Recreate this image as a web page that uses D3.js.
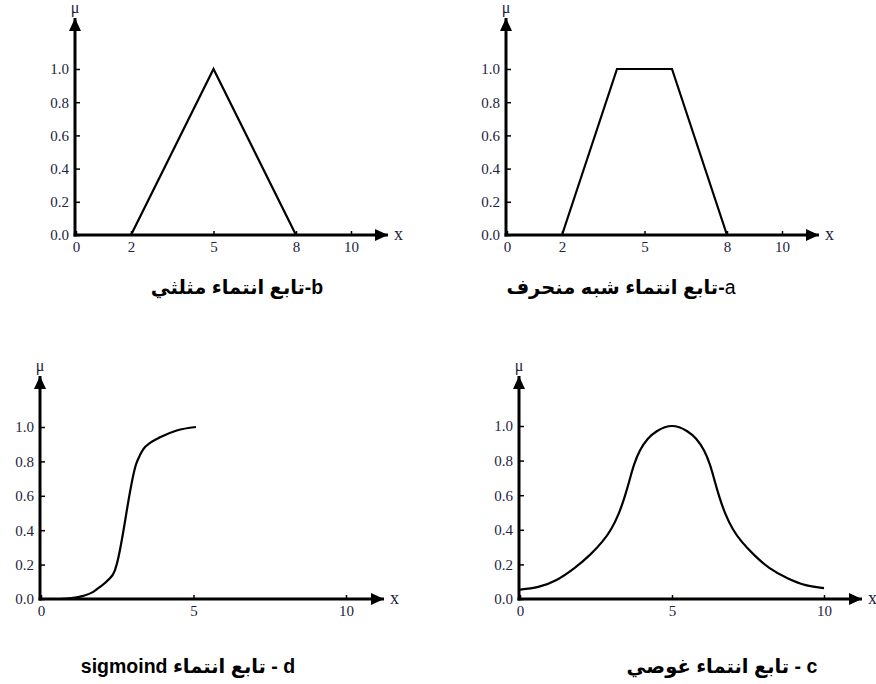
<!DOCTYPE html>
<html>
<head>
<meta charset="utf-8">
<script src="https://cdn.jsdelivr.net/npm/d3@7"></script>
<style>
  body { margin: 0; background: #fff; }
  .caption { font-family: "Liberation Sans", Arial, "DejaVu Sans", sans-serif; font-weight: bold; font-size: 19.5px; fill: #000; }
</style>
</head>
<body>
<div id="chart"></div>
<script>
// tick values
const yTicks = [0, 0.2, 0.4, 0.6, 0.8, 1.0];
const xTicksTop = [0, 2, 5, 8, 10];
const xTicksBottom = [0, 5, 10];

// a - trapezoid
const trapX = [2, 4, 6, 8];
const trapMu = [0, 1, 1, 0];

// b - triangle
const triX = [2, 5, 8];
const triMu = [0, 1, 0];

// c - gaussian
const gaussX = [0, 0.6, 1.2, 1.8, 2.3, 2.7, 3.0, 3.25, 3.45, 3.6, 3.75, 3.95, 4.2, 4.5, 5,
                5.5, 5.8, 6.05, 6.25, 6.4, 6.55, 6.75, 7.0, 7.3, 7.7, 8.2, 8.8, 9.4, 10];
const gaussMu = [0.054, 0.07, 0.11, 0.18, 0.255, 0.33, 0.405, 0.495, 0.595, 0.685, 0.775, 0.86, 0.925, 0.97, 1.0,
                 0.97, 0.925, 0.86, 0.775, 0.685, 0.595, 0.495, 0.405, 0.33, 0.255, 0.18, 0.12, 0.08, 0.063];

// d - sigmoid
const sigX = [0.62, 1.0, 1.38, 1.7, 1.93, 2.2, 2.42, 2.48, 3.13, 3.2, 3.35, 3.6, 3.9, 4.45, 5.08];
const sigMu = [0, 0.005, 0.018, 0.04, 0.07, 0.11, 0.165, 0.2, 0.79, 0.82, 0.87, 0.91, 0.94, 0.98, 1.0];

const captions = {
  a: ["a", "-تابع انتماء شبه منحرف"],
  b: ["b", "-تابع انتماء مثلثي"],
  c: ["c", " - تابع انتماء غوصي"],
  d: ["d", " - تابع انتماء sigmoind"]
};

const svg = d3.select("#chart").append("svg")
    .attr("width", 876)
    .attr("height", 684);

svg.append("defs").append("marker")
    .attr("id", "arrow")
    .attr("viewBox", "0 -6 13 12")
    .attr("refX", 13)
    .attr("refY", 0)
    .attr("markerWidth", 13)
    .attr("markerHeight", 12)
    .attr("markerUnits", "userSpaceOnUse")
    .attr("orient", "auto")
  .append("path")
    .attr("d", "M0,-6L13,0L0,6Z")
    .attr("fill", "#000");

function styleTicks(s){
    s.select(".domain").remove();
    s.selectAll("line").attr("stroke", "#000").attr("stroke-width", 1.5);
    s.selectAll("text")
        .style("font-family", "'Liberation Serif', 'Times New Roman', serif")
        .style("font-size", "15px")
        .style("fill", "#1c2340");
}

function panel(o){
    const g = svg.append("g");

    const x = d3.scaleLinear().domain([0, 10]).range(o.xRange);
    const y = d3.scaleLinear().domain([0, 1]).range(o.yRange);
    const x0 = o.xRange[0] - 1, y0 = o.yRange[0];

    // y axis
    const yAxis = d3.axisLeft(y)
        .tickValues(yTicks)
        .tickFormat(d3.format(".1f"))
        .tickSizeInner(-5)
        .tickSizeOuter(0)
        .tickPadding(6);

    g.append("g")
        .attr("transform", `translate(${x0},0)`)
        .call(yAxis)
        .call(styleTicks);

    // x axis
    const xAxis = d3.axisBottom(x)
        .tickValues(o.xTicks)
        .tickSizeInner(-4)
        .tickSizeOuter(0)
        .tickPadding(6);

    g.append("g")
        .attr("transform", `translate(0,${y0})`)
        .call(xAxis)
        .call(styleTicks);

    // axis lines with arrow heads
    g.append("line")
        .attr("x1", x0).attr("y1", y0 + 1.5)
        .attr("x2", x0).attr("y2", o.yTip)
        .attr("stroke", "#000").attr("stroke-width", 3)
        .attr("marker-end", "url(#arrow)");

    g.append("line")
        .attr("x1", x0 - 1.5).attr("y1", y0)
        .attr("x2", o.xTip).attr("y2", y0)
        .attr("stroke", "#000").attr("stroke-width", 3)
        .attr("marker-end", "url(#arrow)");

    g.append("text")
        .attr("x", o.xTip + 6)
        .attr("y", y0 + 5)
        .style("font-family", "'Liberation Serif', serif")
        .style("font-size", "18px")
        .attr("fill", "#1c2340")
        .text("x");

    g.append("text")
        .attr("x", x0)
        .attr("y", o.yTip - 5)
        .attr("text-anchor", "middle")
        .style("font-family", "'Liberation Serif', serif")
        .style("font-size", "16px")
        .attr("fill", "#1c2340")
        .text("μ");

    // membership function
    const pts = o.xs.map((d, i) => [d, o.mus[i]]);
    const line = d3.line()
        .x(d => x(d[0]))
        .y(d => y(d[1]))
        .curve(o.curve);

    g.append("path")
        .datum(pts)
        .attr("fill", "none")
        .attr("stroke", "#000")
        .attr("stroke-width", 2.2)
        .attr("stroke-linejoin", "miter")
        .attr("d", line);

    const cap = g.append("text")
        .attr("class", "caption")
        .attr("x", o.capX)
        .attr("y", o.capY)
        .attr("text-anchor", "middle")
        .style("direction", "rtl")
        .style("unicode-bidi", "embed");
    cap.append("tspan")
        .style("font-weight", o.letterWeight)
        .text(o.caption[0]);
    cap.append("tspan").text(o.caption[1]);
}

panel({xRange: [76, 351], yRange: [235, 69], xTip: 388, yTip: 18,
       xTicks: xTicksTop, xs: triX, mus: triMu, curve: d3.curveLinear,
       caption: captions.b, letterWeight: "bold", capX: 237, capY: 294});

panel({xRange: [507, 782], yRange: [235, 69], xTip: 819, yTip: 18,
       xTicks: xTicksTop, xs: trapX, mus: trapMu, curve: d3.curveLinear,
       caption: captions.a, letterWeight: "normal", capX: 621, capY: 294});

panel({xRange: [41, 346], yRange: [599, 427], xTip: 384, yTip: 376,
       xTicks: xTicksBottom, xs: sigX, mus: sigMu, curve: d3.curveMonotoneX,
       caption: captions.d, letterWeight: "bold", capX: 188, capY: 673});

panel({xRange: [520, 824], yRange: [599, 426], xTip: 862, yTip: 376,
       xTicks: xTicksBottom, xs: gaussX, mus: gaussMu, curve: d3.curveNatural,
       caption: captions.c, letterWeight: "bold", capX: 722, capY: 673});
</script>
</body>
</html>
